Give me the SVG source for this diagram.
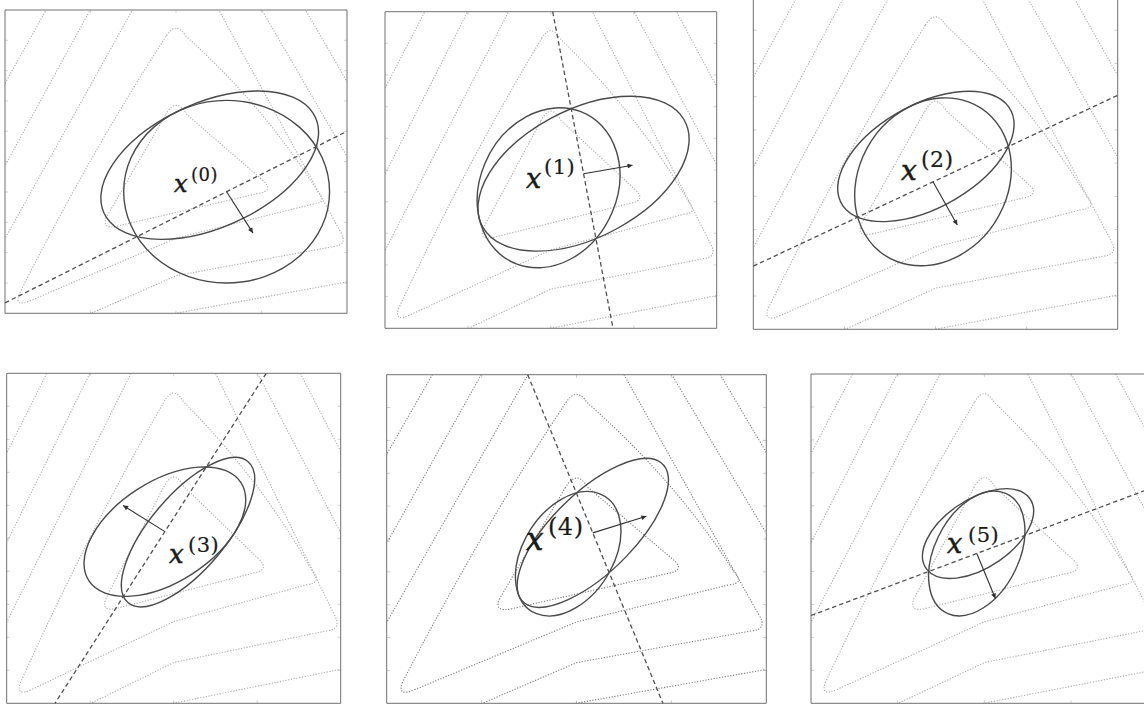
<svg xmlns="http://www.w3.org/2000/svg" xmlns:xlink="http://www.w3.org/1999/xlink" width="1144" height="706" viewBox="0 0 1144 706">
<style>
.v{vector-effect:non-scaling-stroke}
.fr{fill:none;stroke:#707070;stroke-width:1;vector-effect:non-scaling-stroke}
.tk{fill:none;stroke:#707070;stroke-width:1;vector-effect:non-scaling-stroke}
.el{fill:none;stroke:#4a4a4a;stroke-width:1.4;vector-effect:non-scaling-stroke}
.cut{fill:none;stroke:#505050;stroke-width:1.3;stroke-dasharray:4.5 3}
.ar{stroke:#303030;stroke-width:1.1;marker-end:url(#ah)}
text{font-family:'DejaVu Serif','Liberation Serif',serif;fill:#1a1a1a}
.x{font-style:italic;stroke:#1a1a1a;stroke-width:0.5}
.s{font-style:normal;letter-spacing:0.5px;stroke-width:0.2}
</style>
<defs>
<clipPath id="clip" clipPathUnits="userSpaceOnUse"><rect x="0" y="0" width="1000" height="1000"/></clipPath>
<marker id="ah" viewBox="0 0 10 10" refX="10" refY="5" markerWidth="7" markerHeight="5" markerUnits="userSpaceOnUse" orient="auto"><path d="M0,0 L10,5 L0,10 z" fill="#303030"/></marker>
<g id="contours" fill="none">
<path class="v" d="M470,345 Q500,285 530,343 L752,560 Q790,595 740,605 L330,712 Q280,725 298,680 Z"/>
<path class="v" d="M472,85 Q500,35 528,85 Q760,320 915,600 Q945,635 900,640 L501,752 L75,958 Q25,982 42,935 Q250,470 472,85 Z"/>
<path class="v" d="M402,-60 L-40,835"/>
<path class="v" d="M596,-60 L980,730 Q1005,775 960,780 L501,876 L248,1002 L190,1035"/>
<path class="v" d="M278,-60 L-30,575"/>
<path class="v" d="M720,-60 L1040,560"/>
<path class="v" d="M440,1012 L1001.7,896.5 L1050,886"/>
<path class="v" d="M150,-60 L-20,282"/>
<path class="v" d="M848,-60 L1030,295"/>
</g>
<path id="ticks" d="M250,0 V9 M500,0 V9 M750,0 V9 M250,1000 V991 M500,1000 V991 M750,1000 V991 M0,100 H9 M0,200 H9 M0,300 H9 M0,400 H9 M0,500 H9 M0,600 H9 M0,700 H9 M0,800 H9 M0,900 H9 M1000,100 H991 M1000,200 H991 M1000,300 H991 M1000,400 H991 M1000,500 H991 M1000,600 H991 M1000,700 H991 M1000,800 H991 M1000,900 H991"/>
</defs>
<rect width="1144" height="706" fill="#ffffff"/>

<g id="panel0">
<g transform="translate(5 10) scale(0.342 0.3033)">
<use href="#contours" clip-path="url(#clip)" stroke="#ababab" stroke-width="1.1" stroke-dasharray="1.2 1.6"/>
<use href="#ticks" class="tk"/>
<rect class="fr" x="0" y="0" width="1000" height="1000"/>
<circle class="el" cx="648" cy="599" r="301"/>
<ellipse class="el" cx="598.6" cy="511.7" rx="347.6" ry="200.7" transform="rotate(-29.5 598.6 511.7)"/>
</g>
<text class="x" x="174" y="192" font-size="24">x<tspan class="s" x="191" y="181" font-size="18">(0)</tspan></text>
</g>

<g id="panel1">
<g transform="translate(385 11.7) scale(0.3317 0.3166)">
<use href="#contours" clip-path="url(#clip)" stroke="#ababab" stroke-width="1.1" stroke-dasharray="1.2 1.6"/>
<use href="#ticks" class="tk"/>
<rect class="fr" x="0" y="0" width="1000" height="1000"/>
<ellipse class="el" cx="598.6" cy="511.7" rx="347.6" ry="200.7" transform="rotate(-29.5 598.6 511.7)"/>
<ellipse class="el" cx="493.2" cy="556.2" rx="259.5" ry="206.8" transform="rotate(-68 493.2 556.2)"/>
</g>
<text class="x" x="526" y="188" font-size="27">x<tspan class="s" x="544" y="174" font-size="21">(1)</tspan></text>
</g>

<g id="panel2">
<g transform="translate(753.3 -3) scale(0.3644 0.3323)">
<use href="#contours" clip-path="url(#clip)" stroke="#ababab" stroke-width="1.1" stroke-dasharray="1.2 1.6"/>
<use href="#ticks" class="tk"/>
<rect class="fr" x="0" y="0" width="1000" height="1000"/>
<ellipse class="el" cx="493.2" cy="556.2" rx="259.5" ry="206.8" transform="rotate(-68 493.2 556.2)"/>
<ellipse class="el" cx="473.6" cy="479.8" rx="271.9" ry="152" transform="rotate(-33.3 473.6 479.8)"/>
</g>
<text class="x" x="901" y="180" font-size="28">x<tspan class="s" x="921" y="167" font-size="22">(2)</tspan></text>
</g>

<g id="panel3">
<g transform="translate(6.7 373.3) scale(0.334 0.33)">
<use href="#contours" clip-path="url(#clip)" stroke="#ababab" stroke-width="1.1" stroke-dasharray="1.2 1.6"/>
<use href="#ticks" class="tk"/>
<rect class="fr" x="0" y="0" width="1000" height="1000"/>
<ellipse class="el" cx="473.6" cy="479.8" rx="271.9" ry="152" transform="rotate(-33.3 473.6 479.8)"/>
<ellipse class="el" cx="542.9" cy="481.3" rx="279.2" ry="113.9" transform="rotate(-50.1 542.9 481.3)"/>
</g>
<text class="x" x="169" y="563" font-size="26">x<tspan class="s" x="188" y="552" font-size="21">(3)</tspan></text>
</g>

<g id="panel4">
<g transform="translate(386.7 374.7) scale(0.3796 0.3286)">
<use href="#contours" clip-path="url(#clip)" stroke="#7c7c7c" stroke-width="1.1" stroke-dasharray="1.2 1.6"/>
<use href="#ticks" class="tk"/>
<rect class="fr" x="0" y="0" width="1000" height="1000"/>
<ellipse class="el" cx="542.9" cy="481.3" rx="279.2" ry="113.9" transform="rotate(-50.1 542.9 481.3)"/>
<ellipse class="el" cx="478.1" cy="545" rx="200.6" ry="122.1" transform="rotate(-65.4 478.1 545)"/>
</g>
<text class="x" x="526" y="550" font-size="31">x<tspan class="s" x="548" y="535" font-size="24">(4)</tspan></text>
</g>

<g id="panel5">
<g transform="translate(811 374) scale(0.3467 0.3293)">
<use href="#contours" clip-path="url(#clip)" stroke="#ababab" stroke-width="1.1" stroke-dasharray="1.2 1.6"/>
<use href="#ticks" class="tk"/>
<rect class="fr" x="0" y="0" width="1000" height="1000"/>
<ellipse class="el" cx="478.1" cy="545" rx="200.6" ry="122.1" transform="rotate(-65.4 478.1 545)"/>
<ellipse class="el" cx="481.8" cy="484.6" rx="183.4" ry="102.8" transform="rotate(-36.1 481.8 484.6)"/>
</g>
<text class="x" x="947" y="553" font-size="27">x<tspan class="s" x="968" y="542" font-size="21">(5)</tspan></text>
</g>

<g id="connectors">
<line class="cut" x1="5" y1="302.9" x2="347" y2="131.3"/>
<line class="cut" x1="552.7" y1="11.7" x2="613" y2="328.3"/>
<line class="cut" x1="753.3" y1="266.1" x2="1117.7" y2="95.3"/>
<line class="cut" x1="266.2" y1="373.3" x2="55" y2="703.3"/>
<line class="cut" x1="527.7" y1="374.7" x2="662.9" y2="703.3"/>
<line class="cut" x1="811" y1="615.5" x2="1144" y2="490.9"/>
<line class="ar" x1="226.6" y1="191.7" x2="252.9" y2="232.9"/>
<line class="ar" x1="583.6" y1="173.7" x2="632.5" y2="165.2"/>
<line class="ar" x1="933" y1="181.8" x2="957.3" y2="225"/>
<line class="ar" x1="164.9" y1="531.6" x2="123.1" y2="505.5"/>
<line class="ar" x1="592.8" y1="532.9" x2="646.4" y2="516.3"/>
<line class="ar" x1="976.8" y1="553.5" x2="995.4" y2="598.5"/>
</g>
</svg>
